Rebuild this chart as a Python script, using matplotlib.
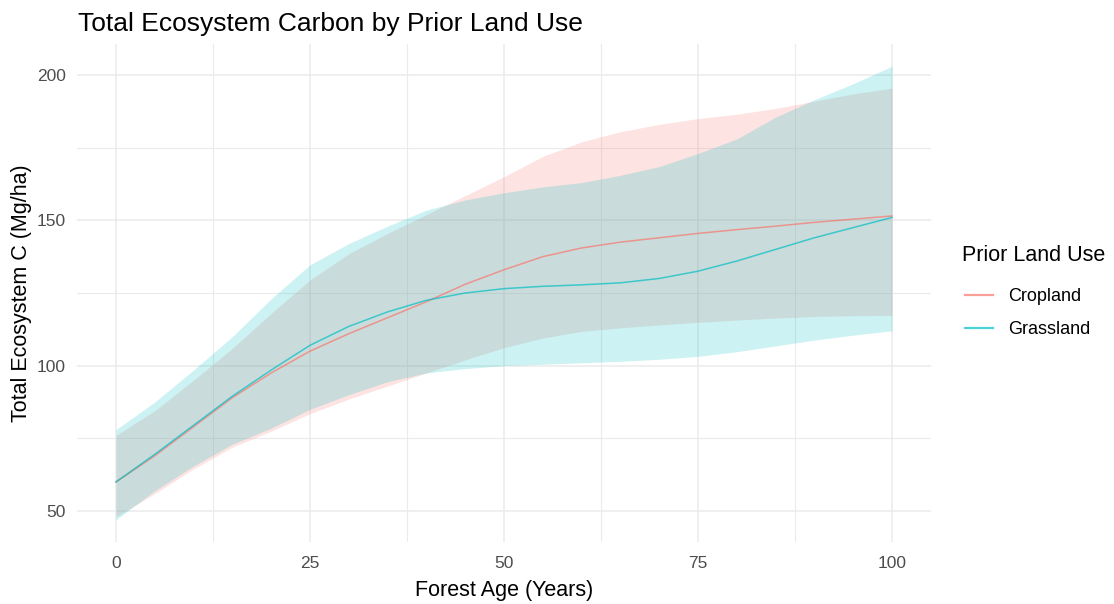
import matplotlib
matplotlib.use("Agg")
import matplotlib.pyplot as plt
from matplotlib.ticker import MultipleLocator

plt.rcParams['font.family'] = ['Liberation Sans', 'DejaVu Sans']

# forest age (years) and mean / 95% band of total ecosystem C (Mg/ha)
age = [0, 5, 10, 15, 20, 25, 30, 35, 40, 45, 50,
       55, 60, 65, 70, 75, 80, 85, 90, 95, 100]

crop_mean = [60, 69, 79, 89, 97.5, 105, 111, 116.5, 122, 128, 133,
             137.5, 140.5, 142.5, 144, 145.5, 146.8, 148, 149.3, 150.4, 151.5]
crop_lo = [48, 56, 64.5, 72, 77.5, 83.5, 88.5, 93, 97.5, 102, 106.2,
           109.5, 111.8, 113, 114, 114.9, 115.7, 116.4, 116.9, 117.2, 117.3]
crop_hi = [76, 84.5, 95, 106, 118, 129.5, 138.5, 145.5, 152, 158.5, 165,
           172, 177, 180.5, 183, 185, 186.5, 188.5, 191, 193.5, 195.5]

grass_mean = [60, 69.5, 79.5, 89.5, 98.5, 107, 113.5, 118.5, 122.5, 125, 126.5,
              127.3, 127.8, 128.5, 130, 132.5, 136, 140, 144, 147.5, 151]
grass_lo = [47, 57, 65.5, 73, 78.5, 85, 90, 94.5, 97.5, 99, 100,
            100.5, 101, 101.5, 102.2, 103.2, 104.8, 106.8, 108.8, 110.5, 112]
grass_hi = [78, 87.5, 98.5, 110, 123, 134.7, 142, 148, 153.5, 157, 159.5,
            161.5, 163, 165.5, 168.5, 173, 178, 185.5, 191.5, 197, 203]

groups = ['Cropland', 'Grassland']
colors = ['#F8766D', '#00BFC4']
series = [(crop_mean, crop_lo, crop_hi), (grass_mean, grass_lo, grass_hi)]

W, H = 1114, 604
fig = plt.figure(figsize=(W / 100, H / 100), dpi=100)
ax = fig.add_axes([77.2 / W, 1 - 542.4 / H, (930.8 - 77.2) / W, (542.4 - 43.6) / H])

for (mean, lo, hi), col in zip(series, colors):
    ax.fill_between(age, lo, hi, color=col, alpha=0.2, lw=0, zorder=2)
for (mean, lo, hi), col, name in zip(series, colors, groups):
    ax.plot(age, mean, color=col, alpha=0.7, lw=1.1, label=name, zorder=3)

ax.set_xlim(-5, 105)
ax.set_ylim(39.2, 210.8)
ax.xaxis.set_major_locator(MultipleLocator(25))
ax.xaxis.set_minor_locator(MultipleLocator(12.5))
ax.yaxis.set_major_locator(MultipleLocator(50))
ax.yaxis.set_minor_locator(MultipleLocator(25))

ax.grid(which='major', color='#EBEBEB', lw=1.1, zorder=0)
ax.grid(which='minor', color='#EBEBEB', lw=0.8, zorder=0)
ax.set_axisbelow(True)
for s in ax.spines.values():
    s.set_visible(False)
ax.tick_params(which='both', length=0)
ax.tick_params(axis='x', pad=9.5, labelsize=12.5, labelcolor='#4D4D4D')
ax.tick_params(axis='y', pad=8, labelsize=12.5, labelcolor='#4D4D4D')

ax.set_xlabel('Forest Age (Years)', fontsize=15.5, labelpad=7)
ax.set_ylabel('Total Ecosystem C (Mg/ha)', fontsize=15.5, labelpad=3.5)
fig.text(78 / W, 1 - 31 / H, 'Total Ecosystem Carbon by Prior Land Use',
         fontsize=19, ha='left', va='baseline')

# legend: title as separate text, keys below it
fig.text(962 / W, 1 - 256 / H, 'Prior Land Use', fontsize=15.5,
         ha='left', va='center')
leg = ax.legend(loc='upper left',
                bbox_to_anchor=(965 / W, 1 - 288 / H),
                bbox_transform=fig.transFigure, frameon=False,
                fontsize=13, handlelength=1.55,
                handletextpad=0.85, labelspacing=0.9, borderpad=0,
                borderaxespad=0)
for line in leg.get_lines():
    line.set_linewidth(1.6)

fig.savefig('out.png', dpi=100, facecolor='white')
